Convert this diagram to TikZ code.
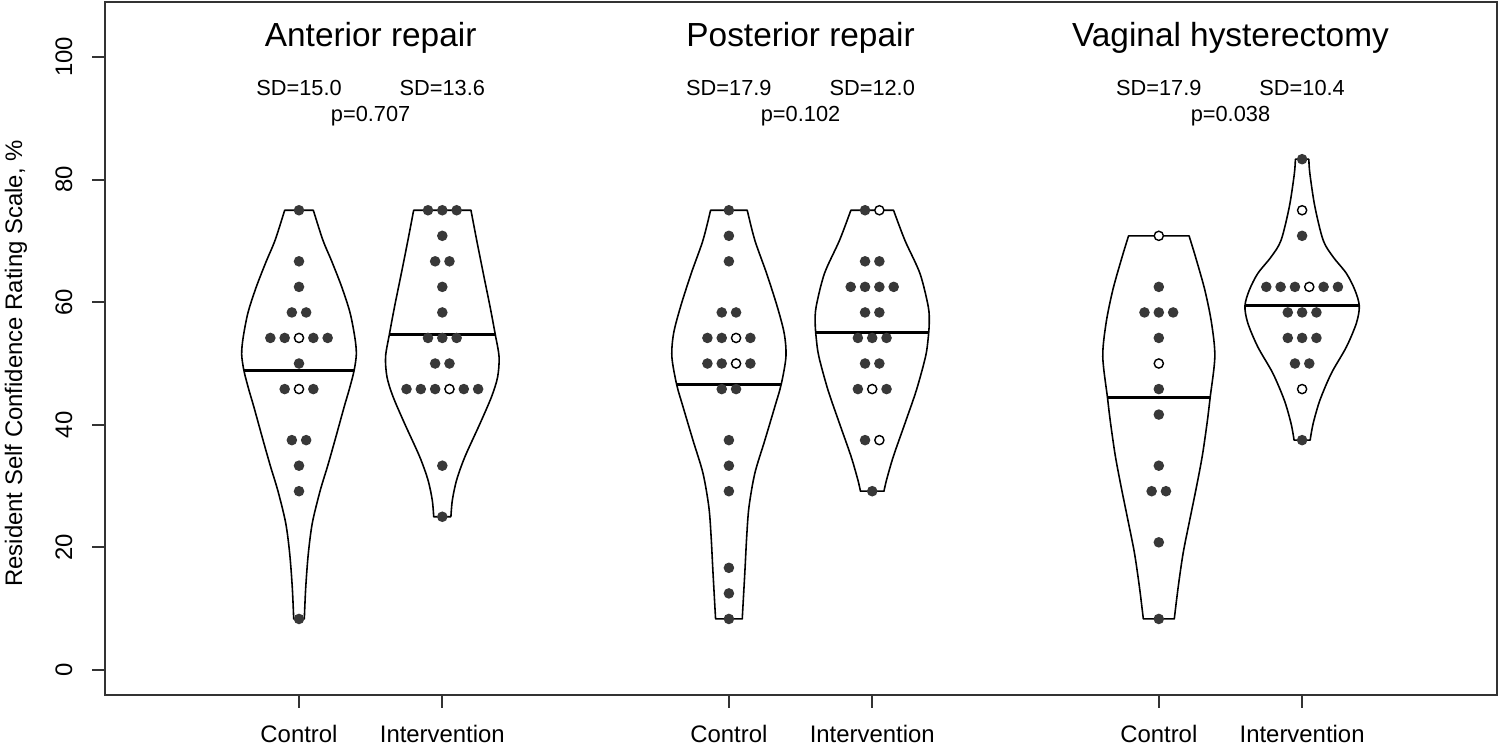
\documentclass[tikz,border=0pt]{standalone}
\usepackage{fontspec}
\setmainfont{Liberation Sans}
\definecolor{dotgray}{gray}{0.22}
\definecolor{framegray}{gray}{0.2}
\tikzset{
  violin/.style={line width=0.9pt, line join=round},
  median/.style={line width=1.8pt},
  dotfull/.style={fill=dotgray},
  dotopen/.style={draw=black, fill=white, line width=0.8pt},
  axisline/.style={draw=framegray, line width=1.1pt},
  titlefont/.style={font=\fontsize{19}{22}\selectfont},
  sdfont/.style={font=\fontsize{12.4}{15}\selectfont},
  axisfont/.style={font=\fontsize{13.6}{16}\selectfont},
}
% a row of dots: x, value, how many, which one is open (0 = none)
\newcommand{\dotrow}[4]{%
  \foreach \k in {1,...,#3}{%
    \pgfmathsetmacro{\dx}{(\k-(#3+1)/2)*0.1}%
    \ifnum\k=#4
      \draw[dotopen] ({#1+(\dx)},#2) circle[radius=0.092cm];
    \else
      \fill[dotfull] ({#1+(\dx)},#2) circle[radius=0.106cm];
    \fi
  }}
% violin: x, top, bottom, right half outline from top to bottom
\newcommand{\violin}[4]{%
  \foreach \s in {1,-1}{%
    \draw[violin, shift={(#1,0)}, xscale=\s] (0,#2) -- plot[smooth] coordinates {#4} -- (0,#3);
  }}
\begin{document}
\begin{tikzpicture}[x=2.866cm,y=0.1226cm]
  \useasboundingbox (-1.0866,-12.23) rectangle (9.374,109.30);
  \draw[axisline] (-0.354,-4.08) rectangle (9.36,109.0);

  % y axis
  \foreach \v in {0,20,...,100}{
    \draw[axisline] (-0.354,\v) -- (-0.445,\v);
    \node[axisfont, rotate=90, anchor=base] (ytick\v) at (-0.584,\v) {\v};
  }
  \node[axisfont, rotate=90, anchor=base] (ylab) at (-0.933,50) {Resident Self Confidence Rating Scale, \%};

  % x axis
  \foreach \x/\lab in {1/Control,2/Intervention,4/Control,5/Intervention,7/Control,8/Intervention}{
    \draw[axisline] (\x,-4.08) -- (\x,-6.2);
    \node[axisfont, anchor=base] (xlab\x) at (\x,-11.75) {\lab};
  }

  % titles and stats
  \node[titlefont, anchor=base] (ant) at (1.5,101.7) {Anterior repair};
  \node[titlefont, anchor=base] (post) at (4.5,101.7) {Posterior repair};
  \node[titlefont, anchor=base] (vag) at (7.5,101.7) {Vaginal hysterectomy};
  \node[sdfont, anchor=base] (sd1) at (1,93.8) {SD=15.0};
  \node[sdfont, anchor=base] (sd2) at (2,93.8) {SD=13.6};
  \node[sdfont, anchor=base] (p1) at (1.5,89.45) {p=0.707};
  \node[sdfont, anchor=base] (sd4) at (4,93.8) {SD=17.9};
  \node[sdfont, anchor=base] (sd5) at (5,93.8) {SD=12.0};
  \node[sdfont, anchor=base] (p2) at (4.5,89.45) {p=0.102};
  \node[sdfont, anchor=base] (sd7) at (7,93.8) {SD=17.9};
  \node[sdfont, anchor=base] (sd8) at (8,93.8) {SD=10.4};
  \node[sdfont, anchor=base] (p3) at (7.5,89.45) {p=0.038};

  % violins
  \violin{1}{75}{8.33}{(0.10,75) (0.167,70.1) (0.228,66.7) (0.298,62.5) (0.356,58.3) (0.39,54.2) (0.40,51.5) (0.384,48.8) (0.351,45.8) (0.316,43) (0.251,37.5) (0.20,33.3) (0.147,29.2) (0.093,24) (0.065,19) (0.047,13.5) (0.037,8.33)}
  \violin{2}{75}{25}{(0.20,75) (0.24,70.1) (0.286,64.7) (0.333,59.3) (0.369,54.8) (0.396,51.1) (0.386,47.8) (0.344,44.6) (0.263,40.2) (0.158,34.8) (0.10,31) (0.07,27.7) (0.06,25)}
  \violin{4}{75}{8.33}{(0.128,75) (0.181,70.1) (0.263,64.7) (0.337,59.3) (0.386,54.9) (0.398,51.1) (0.365,46.6) (0.321,43) (0.251,37.5) (0.181,32.1) (0.14,26.6) (0.124,21.7) (0.112,16.3) (0.093,8.33)}
  \violin{5}{75}{29.17}{(0.149,75) (0.228,70.1) (0.333,64.7) (0.391,59.3) (0.398,56.6) (0.39,54) (0.372,51.1) (0.309,45.7) (0.228,40.2) (0.147,34.8) (0.10,31) (0.082,29.17)}
  \violin{7}{70.83}{8.33}{(0.211,70.83) (0.256,67.4) (0.321,62) (0.368,56.6) (0.391,51.1) (0.358,44.4) (0.338,40.5) (0.304,35) (0.263,29.9) (0.216,24.5) (0.17,19.1) (0.135,13.5) (0.108,8.33)}
  \violin{8}{83.33}{37.5}{(0.047,83.33) (0.054,81) (0.089,75.6) (0.147,70.1) (0.216,67.4) (0.309,64.7) (0.368,62) (0.399,59.4) (0.379,56.6) (0.309,52.7) (0.204,48.4) (0.124,44) (0.077,40.2) (0.056,37.5)}

  % medians
  \draw[median] (1-0.384,48.8) -- (1+0.384,48.8);
  \draw[median] (2-0.369,54.8) -- (2+0.369,54.8);
  \draw[median] (4-0.365,46.6) -- (4+0.365,46.6);
  \draw[median] (5-0.39,55.1) -- (5+0.39,55.1);
  \draw[median] (7-0.358,44.4) -- (7+0.358,44.4);
  \draw[median] (8-0.399,59.4) -- (8+0.399,59.4);

  % anterior, control
  \dotrow{1}{75}{1}{0} \dotrow{1}{66.67}{1}{0} \dotrow{1}{62.5}{1}{0}
  \dotrow{1}{58.33}{2}{0} \dotrow{1}{54.17}{5}{3} \dotrow{1}{50}{1}{0}
  \dotrow{1}{45.83}{3}{2} \dotrow{1}{37.5}{2}{0} \dotrow{1}{33.33}{1}{0}
  \dotrow{1}{29.17}{1}{0} \dotrow{1}{8.33}{1}{0}
  % anterior, intervention
  \dotrow{2}{75}{3}{0} \dotrow{2}{70.83}{1}{0} \dotrow{2}{66.67}{2}{0}
  \dotrow{2}{62.5}{1}{0} \dotrow{2}{58.33}{1}{0} \dotrow{2}{54.17}{3}{0}
  \dotrow{2}{50}{2}{0} \dotrow{2}{45.83}{6}{4} \dotrow{2}{33.33}{1}{0}
  \dotrow{2}{25}{1}{0}
  % posterior, control
  \dotrow{4}{75}{1}{0} \dotrow{4}{70.83}{1}{0} \dotrow{4}{66.67}{1}{0}
  \dotrow{4}{58.33}{2}{0} \dotrow{4}{54.17}{4}{3} \dotrow{4}{50}{4}{3}
  \dotrow{4}{45.83}{2}{0} \dotrow{4}{37.5}{1}{0} \dotrow{4}{33.33}{1}{0}
  \dotrow{4}{29.17}{1}{0} \dotrow{4}{16.67}{1}{0} \dotrow{4}{12.5}{1}{0}
  \dotrow{4}{8.33}{1}{0}
  % posterior, intervention
  \dotrow{5}{75}{2}{2} \dotrow{5}{66.67}{2}{0} \dotrow{5}{62.5}{4}{0}
  \dotrow{5}{58.33}{2}{0} \dotrow{5}{54.17}{3}{0} \dotrow{5}{50}{2}{0}
  \dotrow{5}{45.83}{3}{2} \dotrow{5}{37.5}{2}{2} \dotrow{5}{29.17}{1}{0}
  % vaginal, control
  \dotrow{7}{70.83}{1}{1} \dotrow{7}{62.5}{1}{0} \dotrow{7}{58.33}{3}{0}
  \dotrow{7}{54.17}{1}{0} \dotrow{7}{50}{1}{1} \dotrow{7}{45.83}{1}{0}
  \dotrow{7}{41.67}{1}{0} \dotrow{7}{33.33}{1}{0} \dotrow{7}{29.17}{2}{0}
  \dotrow{7}{20.83}{1}{0} \dotrow{7}{8.33}{1}{0}
  % vaginal, intervention
  \dotrow{8}{83.33}{1}{0} \dotrow{8}{75}{1}{1} \dotrow{8}{70.83}{1}{0}
  \dotrow{8}{62.5}{6}{4} \dotrow{8}{58.33}{3}{0} \dotrow{8}{54.17}{3}{0}
  \dotrow{8}{50}{2}{0} \dotrow{8}{45.83}{1}{1} \dotrow{8}{37.5}{1}{0}
\end{tikzpicture}
\end{document}
